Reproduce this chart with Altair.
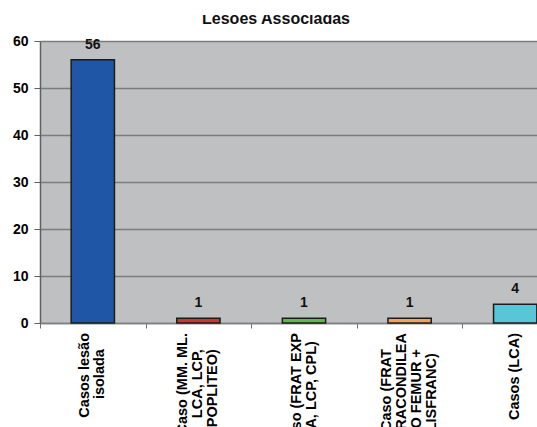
import altair as alt
import pandas as pd

title_text = "Lesões Associadas"
label_lines = [
    ["Casos lesão", "isolada"],
    ["Caso (MM. ML.", "LCA, LCP,", "POPLITEO)"],
    ["Caso (FRAT EXP", "LCA, LCP, CPL)"],
    ["Caso (FRAT", "SUPRACONDILEA", "DO FEMUR +", "LISFRANC)"],
    ["Casos (LCA)"],
]
values = [56, 1, 1, 1, 4]
bar_colors = ["#1f56a6", "#cc3535", "#62b552", "#f0a458", "#58c6d6"]

# layout only: trailing non-breaking spaces to centre shorter lines
line_pad = [[0, 4], [0, 4, 4], [0, 2], [4, 0, 4, 5], [0]]
LINE_H = 15
RANGE_W = 528
STEP = RANGE_W / len(values)

cats = ["c%d" % i for i in range(len(values))]
texts = [
    "|".join(t + ("\u00a0" * p + "\u200d" if p else "") for t, p in zip(lines, pads))
    for lines, pads in zip(label_lines, line_pad)
]
shifts = [STEP / 2 - (len(lines) - 1) * LINE_H / 2 for lines in label_lines]

df = pd.DataFrame({"cat": cats, "val": values, "lab": texts, "shift": shifts})
FONT = "Liberation Sans"

xscale = alt.Scale(domain=cats, range=[0, RANGE_W], paddingInner=0, paddingOuter=0)
yscale = alt.Scale(domain=[0, 60])

base = alt.Chart(df)

bars = base.mark_bar(width={"band": 0.41}, stroke="#1c1c1c", strokeWidth=1.5).encode(
    x=alt.X("cat:N", sort=None, scale=xscale,
            axis=alt.Axis(title=None, labels=False,
                          tickBand="extent", tickSize=5, tickColor="#707070",
                          domainColor="#808080", domainWidth=1.5, grid=False)),
    y=alt.Y("val:Q", scale=yscale,
            axis=alt.Axis(title=None, values=[0, 10, 20, 30, 40, 50, 60],
                          labelFont=FONT, labelFontSize=14, labelFontWeight="bold",
                          labelColor="black", labelPadding=6, tickSize=6,
                          tickColor="#606060", domainColor="#606060", domainWidth=1.5,
                          grid=True, gridColor="#7c7c7c", gridWidth=1.5)),
    color=alt.Color("cat:N", sort=None, scale=alt.Scale(domain=cats, range=bar_colors),
                    legend=None),
)

values_text = base.mark_text(font=FONT, fontSize=14, fontWeight="bold", color="#111111",
                             baseline="alphabetic", dy=-11).encode(
    x=alt.X("cat:N", sort=None, scale=xscale),
    y=alt.Y("val:Q", scale=yscale),
    text=alt.Text("val:Q"),
)

cat_labels = base.mark_text(font=FONT, fontSize=14.5, fontWeight="bold", color="black",
                            angle=270, align="right", baseline="middle",
                            lineBreak="|", lineHeight=LINE_H).encode(
    x=alt.X("cat:N", sort=None, scale=xscale),
    xOffset=alt.XOffset("shift:Q", scale=None),
    y=alt.value(292),
    text="lab:N",
)

title_df = pd.DataFrame({"t": [title_text]})
title = alt.Chart(title_df).mark_text(font=FONT, fontSize=16, fontWeight="bold", color="#111111",
                                      align="center", baseline="alphabetic").encode(
    text="t:N", x=alt.value(236), y=alt.value(-17.5))
mask = alt.Chart(title_df).mark_rect(color="white").encode(
    x=alt.value(-40), x2=alt.value(497), y=alt.value(-41), y2=alt.value(-26))

chart = alt.layer(bars, values_text, cat_labels, title, mask).properties(
    width=497, height=282,
    autosize=alt.AutoSizeParams(type="none"),
    padding={"left": 40, "top": 41, "right": 0, "bottom": 104},
    background="white",
).configure_view(fill="#bfc0c2", stroke=None)

chart.save("out.html", embed_options={"renderer": "svg", "actions": False})
